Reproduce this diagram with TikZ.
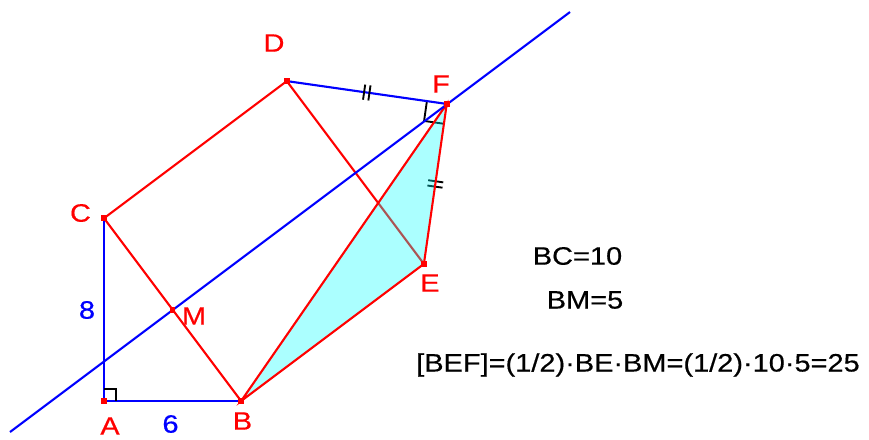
\documentclass[tikz,border=0pt]{standalone}
\usepackage{fontspec}
\newfontfamily\lab{Liberation Sans}[FakeStretch=1.15,FakeBold=0.5]
\usetikzlibrary{calc,decorations.markings}
\definecolor{aqua}{RGB}{0,255,255}
\definecolor{pured}{RGB}{255,0,0}
\definecolor{pblue}{RGB}{0,0,255}
\begin{document}
\begin{tikzpicture}[x=0.03cm,y=-0.03cm,
  redl/.style={draw=pured,line width=1.8pt},
  bluel/.style={draw=pblue,line width=1.8pt},
  markl/.style={draw=black,line width=1.6pt},
  ptbox/.style={rectangle,fill=pured,minimum size=5pt,inner sep=0pt},
  txt/.style={font=\lab\fontsize{21.5}{24}\selectfont,inner sep=0pt},
  twoticks/.style={postaction={decorate,decoration={markings,
    mark=at position 0.5 with {\draw[markl] (-2.3pt,-6.5pt)--(-2.3pt,6.5pt) (2.3pt,-6.5pt)--(2.3pt,6.5pt);}}}}
]
\useasboundingbox (0,0) rectangle (869,439);
\coordinate (A) at (104,401);
\coordinate (B) at (241.1,401);
\coordinate (C) at (104,218.2);
\coordinate (D) at (286.8,81.1);
\coordinate (E) at (423.9,263.9);
\coordinate (F) at (446.75,103.95);
\coordinate (M) at (172.55,309.6);
\coordinate (L1) at (10,432);
\coordinate (L2) at (570,12);
% lines beneath the fill
\draw[redl] (D) -- (E);
\path[twoticks] (E) -- (F);
\coordinate (P1) at ($(F)!0.124!(D)$);
\coordinate (P2) at ($(F)!0.124!(E)$);
\draw[markl] (P1) -- ($(P1)+(P2)-(F)$) -- (P2);
% fill
\fill[aqua,fill opacity=0.33] (B) -- (E) -- (F) -- cycle;
% figure
\draw[redl] (C) -- (D);
\draw[redl] (C) -- (B);
\draw[redl] (B) -- (E) -- (F) -- cycle;
\draw[bluel] (A) -- (B);
\draw[bluel] (A) -- (C);
\draw[bluel,twoticks] (D) -- (F);
\draw[bluel] (L1) -- (L2);
\draw[markl] (104,389) -- (116,389) -- (116,401);
% point markers
\foreach \p in {A,B,C,D,E,F,M} \node[ptbox] at (\p) {};
% labels
\node[txt,text=pured] (lD) at (274,43) {D};
\node[txt,text=pured] (lF) at (441,84) {F};
\node[txt,text=pured] (lC) at (80.5,213) {C};
\node[txt,text=pured] (lE) at (430,283) {E};
\node[txt,text=pured] (lM) at (194,316) {M};
\node[txt,text=pured] (lA) at (110,426) {A};
\node[txt,text=pured] (lB) at (242.5,421) {B};
\node[txt,text=pblue] (l8) at (87,310) {8};
\node[txt,text=pblue] (l6) at (170.5,424) {6};
\node[txt] (t1) at (577.5,256) {BC=10};
\node[txt] (t2) at (585,300) {BM=5};
\node[txt] (t3) at (638,365) {[BEF]=(1/2)·BE·BM=(1/2)·10·5=25};
\end{tikzpicture}
\end{document}
